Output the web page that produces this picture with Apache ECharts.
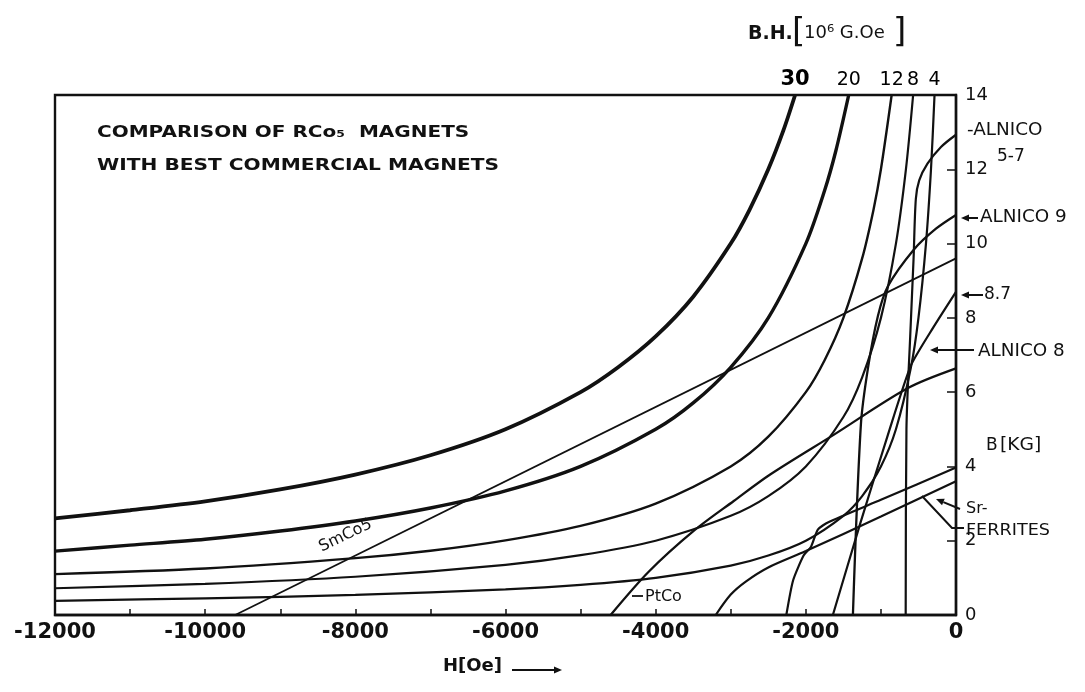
<!DOCTYPE html>
<html><head><meta charset="utf-8">
<script src="https://cdn.jsdelivr.net/npm/echarts@6/dist/echarts.min.js"></script>
<style>html,body{margin:0;padding:0;background:#fff}#c{width:1085px;height:692px}</style>
</head><body><div id="c"></div>
<script>
// ---- data (H in Oe, B in kG) ----
const bhLevels = [30, 20, 12, 8, 4];            // top scale labels, 10^6 G.Oe
const bh30 = [[-12000,2.6],[-11000,2.82],[-10000,3.06],[-9000,3.38],[-8000,3.78],[-7000,4.3],[-6000,5.0],[-5000,6.0],[-4500,6.67],[-4000,7.5],[-3500,8.57],[-3000,10.0],[-2750,10.91],[-2500,12.0],[-2300,13.04],[-2143,14.0]];
const bh20 = [[-12000,1.72],[-11000,1.88],[-10000,2.04],[-9000,2.26],[-8000,2.53],[-7000,2.88],[-6000,3.34],[-5000,4.0],[-4000,5.0],[-3500,5.71],[-3000,6.67],[-2500,8.0],[-2000,10.0],[-1750,11.43],[-1600,12.5],[-1429,14.0]];
const bh12 = [[-12000,1.1],[-10000,1.25],[-8000,1.53],[-7000,1.73],[-6000,2.01],[-5000,2.4],[-4000,3.0],[-3000,4.0],[-2500,4.8],[-2000,6.0],[-1750,6.86],[-1500,8.0],[-1250,9.6],[-1100,10.9],[-1000,12.0],[-857,14.0]];
const bh8 = [[-12000,0.72],[-10000,0.84],[-8000,1.03],[-6000,1.35],[-5000,1.61],[-4000,2.0],[-3000,2.67],[-2500,3.2],[-2000,4.0],[-1500,5.33],[-1250,6.4],[-1000,8.0],[-800,10.0],[-667,12.0],[-571,14.0]];
const bh4 = [[-12000,0.38],[-10000,0.45],[-8000,0.54],[-6000,0.69],[-5000,0.81],[-4000,1.0],[-3000,1.33],[-2500,1.6],[-2000,2.0],[-1500,2.67],[-1250,3.2],[-1000,4.0],[-800,5.0],[-600,6.67],[-500,8.0],[-400,10.0],[-333,12.0],[-286,14.0]];
const smco5 = [[-9600,0],[0,9.6]];
const ptco = [[-4600,0],[-4090,1.17],[-3490,2.27],[-2960,3.07],[-2470,3.79],[-1630,4.85],[-640,6.11],[0,6.64]];
const alnico57 = [[-670,0],[-660,5.0],[-610,7.5],[-565,9.6],[-535,11.2],[-490,11.7],[-380,12.15],[-200,12.6],[0,12.93]];
const alnico9 = [[-1373,0],[-1267,5.12],[-1173,6.64],[-1040,8.05],[-907,8.85],[-560,9.84],[-267,10.4],[0,10.77]];
const alnico8 = [[-1640,0],[-1270,2.5],[-907,4.85],[-600,6.72],[-300,7.75],[0,8.7]];
const srFerriteA = [[-2260,0],[-2170,0.93],[-2030,1.6],[-1930,1.84],[-1840,2.3],[-1700,2.5],[-1000,3.1],[0,3.97]];
const srFerriteB = [[-3200,0],[-3000,0.55],[-2800,0.9],[-2500,1.28],[-2000,1.72],[-1000,2.65],[0,3.6]];
const bTicks = [0,2,4,6,8,10,12,14];

const chart = echarts.init(document.getElementById('c'), null, {renderer:'canvas'});
const FONT = 'DejaVu Sans';
function curve(name, data, w, smooth){
  return {name, type:'line', data, showSymbol:false, symbol:'none', smooth: smooth===undefined?0.3:smooth,
    lineStyle:{color:'#111', width:w}, clip:true, z:3, silent:true};
}
const topPts = bhLevels.map(v => [-v*1000/14, 14]);
const series = [
  curve('BH30', bh30, 3.8), curve('BH20', bh20, 3.4), curve('BH12', bh12, 2.4),
  curve('BH8', bh8, 2.2), curve('BH4', bh4, 2.2),
  curve('SmCo5', smco5, 1.8, false), curve('PtCo', ptco, 2.3),
  curve('ALNICO 5-7', alnico57, 2.2), curve('ALNICO 9', alnico9, 2.3), curve('ALNICO 8', alnico8, 2.2, 0.2),
  curve('Sr-Ferrite A', srFerriteA, 2.2, 0.2), curve('Sr-Ferrite B', srFerriteB, 2.2),
  {type:'scatter', symbolSize:0, clip:false, silent:true, itemStyle:{color:'#000', opacity:1},
   data: topPts.map((p,i)=>({value:p, label:{color:'#000', fontWeight: i===0?'bold':'500', fontSize: i===0?21:19}})),
   label:{show:true, position:'top', distance:5, color:'#000', opacity:1, fontFamily:FONT, fontSize:19,
     formatter: p => String(bhLevels[p.dataIndex])}}
];

function txt(x,y,text,size,opts){
  return Object.assign({type:'text', x, y, style:Object.assign({text, fill:'#111', font:(opts&&opts.weight||'normal')+' '+size+'px "'+FONT+'"', align:'left', verticalAlign:'middle'}, opts&&opts.style||{})}, opts&&opts.el||{});
}
function arrow(x1,y1,x2,y2){ // arrow pointing to (x2,y2)
  const a = Math.atan2(y2-y1, x2-x1), L=8, W=3.5;
  const bx = x2 - L*Math.cos(a), by = y2 - L*Math.sin(a);
  return [
    {type:'line', shape:{x1,y1,x2:bx,y2:by}, style:{stroke:'#111', lineWidth:2}},
    {type:'polygon', shape:{points:[[x2,y2],[bx - W*Math.sin(a), by + W*Math.cos(a)],[bx + W*Math.sin(a), by - W*Math.cos(a)]]}, style:{fill:'#111'}}
  ];
}
const graphic = [
  txt(97,133,'COMPARISON OF RCo₅  MAGNETS',16,{weight:'bold', el:{scaleX:1.25}}),
  txt(97,166,'WITH BEST COMMERCIAL MAGNETS',16,{weight:'bold', el:{scaleX:1.26}}),
  txt(748,34,'B.H.',19,{weight:'bold'}),
  txt(792,33,'[',34),
  txt(804,33,'10⁶ G.Oe',18),
  txt(893,33,']',34),
  txt(967,131,'-ALNICO',17,{el:{scaleX:1.08}}),
  txt(997,157,'5-7',17),
  txt(980,218,'ALNICO 9',17,{el:{scaleX:1.08}}),
  txt(984,295,'8.7',17),
  txt(978,352,'ALNICO 8',17,{el:{scaleX:1.08}}),
  txt(986,446,'B',17),
  txt(1000,446,'[KG]',17,{el:{scaleX:1.1}}),
  txt(966,509,'Sr-',16),
  txt(966,531,'FERRITES',16,{el:{scaleX:1.1}}),
  txt(645,597,'PtCo',16),
  txt(443,666,'H[Oe]',18,{weight:'bold'}),
  Object.assign(txt(320,548,'SmCo5',16),{rotation:0.45}),
  {type:'line', shape:{x1:632,y1:596,x2:643,y2:596}, style:{stroke:'#111',lineWidth:1.8}},
  {type:'polyline', shape:{points:[[964,528],[952,528],[922,496]]}, style:{stroke:'#111',lineWidth:2, fill:null}},
  ...arrow(978,218,961,218), ...arrow(983,295,961,295), ...arrow(974,350,930,350),
  ...arrow(960,509,936,499), ...arrow(512,670,562,670)
];

chart.setOption({
  backgroundColor:'#fff', animation:false,
  grid:{left:55, right:129, top:95, bottom:77, show:true, borderColor:'#111', borderWidth:2.4, backgroundColor:'transparent'},
  xAxis:{type:'value', min:-12000, max:0, interval:1000,
    axisLine:{show:true, lineStyle:{color:'#111', width:2.4}},
    axisTick:{show:true, inside:true, length:6, lineStyle:{color:'#111', width:1.5}},
    axisLabel:{color:'#111', fontFamily:FONT, fontSize:21, fontWeight:'bold', margin:7, formatter: v => (v % 2000 === 0 ? String(v) : '')},
    splitLine:{show:false}},
  yAxis:{type:'value', position:'right', min:0, max:14, interval:2,
    axisLine:{show:true, lineStyle:{color:'#111', width:2.4}},
    axisTick:{show:true, inside:true, length:9, lineStyle:{color:'#111', width:1.5}},
    axisLabel:{color:'#111', fontFamily:FONT, fontSize:18, margin:9, formatter: v => bTicks.indexOf(v) >= 0 ? String(v) : ''},
    splitLine:{show:false}},
  series, graphic
});
</script></body></html>
